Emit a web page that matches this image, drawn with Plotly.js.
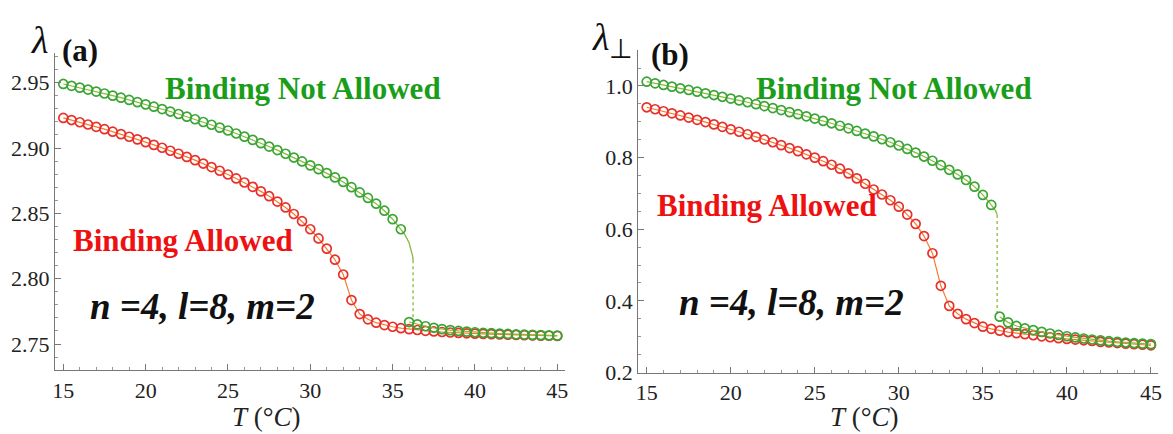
<!DOCTYPE html>
<html>
<head>
<meta charset="utf-8">
<script src="https://cdn.plot.ly/plotly-3.0.1.min.js"></script>
<style>html,body{margin:0;padding:0;background:#fff}#plot{width:1173px;height:434px}</style>
</head>
<body>
<div id="plot"></div>
<script>
// ---------- Data: panel (a) lambda ----------
const tFull = [15,15.5,16,16.5,17,17.5,18,18.5,19,19.5,20,20.5,21,21.5,22,22.5,23,23.5,24,24.5,25,25.5,26,26.5,27,27.5,28,28.5,29,29.5,30,30.5,31,31.5,32,32.5,33,33.5,34,34.5,35,35.5,36,36.5,37,37.5,38,38.5,39,39.5,40,40.5,41,41.5,42,42.5,43,43.5,44,44.5,45];
const tHigh = [15,15.5,16,16.5,17,17.5,18,18.5,19,19.5,20,20.5,21,21.5,22,22.5,23,23.5,24,24.5,25,25.5,26,26.5,27,27.5,28,28.5,29,29.5,30,30.5,31,31.5,32,32.5,33,33.5,34,34.5,35,35.5];
const tLow = [36,36.5,37,37.5,38,38.5,39,39.5,40,40.5,41,41.5,42,42.5,43,43.5,44,44.5,45];

const lamA_allowed = [2.9230,2.9214,2.9197,2.9180,2.9162,2.9144,2.9125,2.9106,2.9086,2.9066,2.9045,2.9024,2.9002,2.8979,2.8956,2.8932,2.8907,2.8881,2.8854,2.8826,2.8797,2.8767,2.8736,2.8703,2.8668,2.8631,2.8590,2.8545,2.8495,2.8440,2.8378,2.8308,2.8230,2.8145,2.8032,2.7836,2.7729,2.7689,2.7663,2.7645,2.7632,2.7621,2.7614,2.7607,2.7601,2.7596,2.7592,2.7588,2.7585,2.7582,2.7579,2.7577,2.7575,2.7573,2.7571,2.7569,2.7567,2.7566,2.7564,2.7563,2.7562];
const lamA_notHigh = [2.9490,2.9476,2.9462,2.9447,2.9432,2.9417,2.9401,2.9385,2.9368,2.9351,2.9334,2.9316,2.9298,2.9279,2.9260,2.9240,2.9220,2.9199,2.9178,2.9156,2.9134,2.9111,2.9087,2.9062,2.9037,2.9011,2.8984,2.8956,2.8927,2.8897,2.8867,2.8838,2.8808,2.8775,2.8740,2.8700,2.8660,2.8618,2.8574,2.8520,2.8455,2.8378];
const tA_tail = [35.5,35.75,36.0,36.15,36.22,36.24];
const lamA_tail = [2.8378,2.8335,2.8275,2.8215,2.8170,2.8140];
const tA_jump = [36.24,36.24];
const lamA_jump = [2.8140,2.7690];
const lamA_notLow = [2.7668,2.7650,2.7636,2.7624,2.7614,2.7606,2.7600,2.7595,2.7590,2.7586,2.7583,2.7580,2.7577,2.7574,2.7572,2.7570,2.7568,2.7566,2.7564];

// ---------- Data: panel (b) lambda_perp ----------
const lamB_allowed = [0.9405,0.9350,0.9294,0.9236,0.9177,0.9117,0.9055,0.8992,0.8927,0.8860,0.8790,0.8722,0.8652,0.8580,0.8506,0.8429,0.8349,0.8266,0.8180,0.8091,0.8000,0.7900,0.7800,0.7690,0.7560,0.7420,0.7270,0.7110,0.6970,0.6810,0.6630,0.6410,0.6150,0.5810,0.5330,0.4420,0.3860,0.3640,0.3490,0.3380,0.3280,0.3220,0.3170,0.3130,0.3100,0.3070,0.3040,0.3010,0.2985,0.2960,0.2940,0.2920,0.2900,0.2882,0.2855,0.2838,0.2822,0.2806,0.2790,0.2775,0.2760];
const lamB_notHigh = [1.0120,1.0074,1.0028,0.9982,0.9935,0.9889,0.9842,0.9795,0.9747,0.9698,0.9648,0.9597,0.9545,0.9492,0.9438,0.9383,0.9327,0.9270,0.9212,0.9152,0.9090,0.9025,0.8958,0.8889,0.8818,0.8745,0.8670,0.8593,0.8513,0.8428,0.8338,0.8242,0.8140,0.8030,0.7912,0.7788,0.7660,0.7530,0.7375,0.7190,0.6958,0.6679];
const tB_tail = [35.5,35.65,35.75,35.82,35.85];
const lamB_tail = [0.6679,0.6595,0.6520,0.6450,0.6400];
const tB_jump = [35.85,35.85];
const lamB_jump = [0.6400,0.3620];
const lamB_notLow = [0.3560,0.3400,0.3300,0.3235,0.3185,0.3135,0.3090,0.3050,0.3012,0.2980,0.2950,0.2922,0.2897,0.2875,0.2855,0.2837,0.2821,0.2806,0.2792];

// ---------- Labels ----------
const labelNot = 'Binding Not Allowed';
const labelAllowed = 'Binding Allowed';
const paramLabel = 'n =4, l=8, m=2';

// ---------- Styling ----------
const RED = '#e8302a', RED_LINE = '#f57a30';
const GREEN = '#3aa534', GREEN_LINE = '#8ab83a';
const SERIF = 'Liberation Serif';
const W = 1173, H = 434;
const px = x => x / W, py = y => 1 - y / H;

function markerTrace(x, y, color, lineColor, xa, ya) {
  return {x, y, xaxis: xa, yaxis: ya, mode: 'lines+markers', type: 'scatter',
    line: {color: lineColor, width: 1.2},
    marker: {symbol: 'circle-open', size: 9, color: color, line: {width: 1.7, color: color}},
    hoverinfo: 'skip', showlegend: false};
}
function lineTrace(x, y, color, dash, xa, ya) {
  return {x, y, xaxis: xa, yaxis: ya, mode: 'lines', type: 'scatter',
    line: {color, width: 1.3, dash}, hoverinfo: 'skip', showlegend: false};
}

const traces = [
  lineTrace(tA_tail, lamA_tail, GREEN_LINE, 'solid', 'x', 'y'),
  lineTrace(tA_jump, lamA_jump, GREEN_LINE, 'dot', 'x', 'y'),
  markerTrace(tFull, lamA_allowed, RED, RED_LINE, 'x', 'y'),
  markerTrace(tHigh, lamA_notHigh, GREEN, GREEN_LINE, 'x', 'y'),
  markerTrace(tLow, lamA_notLow, GREEN, GREEN_LINE, 'x', 'y'),
  lineTrace(tB_tail, lamB_tail, GREEN_LINE, 'solid', 'x2', 'y2'),
  lineTrace(tB_jump, lamB_jump, GREEN_LINE, 'dot', 'x2', 'y2'),
  markerTrace(tFull, lamB_allowed, RED, RED_LINE, 'x2', 'y2'),
  markerTrace(tHigh, lamB_notHigh, GREEN, GREEN_LINE, 'x2', 'y2'),
  markerTrace(tLow, lamB_notLow, GREEN, GREEN_LINE, 'x2', 'y2')
];

const axisCommon = {
  showline: true, linecolor: '#777', linewidth: 1.2, mirror: false,
  showgrid: false, zeroline: false,
  ticks: 'inside', ticklen: 6, tickwidth: 1, tickcolor: '#777',
  tickfont: {family: SERIF, size: 22, color: '#222'}
};

const layout = {
  width: W, height: H,
  margin: {l: 0, r: 0, t: 0, b: 0},
  paper_bgcolor: '#fff', plot_bgcolor: '#fff',
  showlegend: false,
  font: {family: SERIF},
  xaxis: Object.assign({}, axisCommon, {domain: [px(55), px(565)], range: [14.496, 45.468], tick0: 15, dtick: 5, anchor: 'y',
    minor: {ticks: 'inside', ticklen: 3, dtick: 1, tickcolor: '#999'}}),
  yaxis: Object.assign({}, axisCommon, {domain: [py(370), py(53)], range: [2.7301, 2.9727], tick0: 2.75, dtick: 0.05, tickformat: '.2f', anchor: 'x',
    minor: {ticks: 'inside', ticklen: 3, dtick: 0.01, tickcolor: '#999'}}),
  xaxis2: Object.assign({}, axisCommon, {domain: [px(638.3), px(1158)], range: [14.5, 45.42], tick0: 15, dtick: 5, anchor: 'y2',
    minor: {ticks: 'inside', ticklen: 3, dtick: 1, tickcolor: '#999'}}),
  yaxis2: Object.assign({}, axisCommon, {domain: [py(372.7), py(50)], range: [0.1995, 1.1004], tick0: 0.2, dtick: 0.2, tickformat: '.1f', anchor: 'x2',
    minor: {ticks: 'inside', ticklen: 3, dtick: 0.05, tickcolor: '#999'}}),
  annotations: []
};

function ann(text, x, y, size, color, extra) {
  return Object.assign({text, x: px(x), y: py(y), xref: 'paper', yref: 'paper', showarrow: false,
    xanchor: 'center', yanchor: 'middle', font: {family: SERIF, size, color}}, extra || {});
}

layout.annotations.push(
  ann('<i>λ</i>', 39, 40, 38, '#111'),
  ann('<b>(a)</b>', 80, 51, 31, '#111'),
  ann('<b>' + labelNot + '</b>', 303, 88, 31, '#1a9e1a'),
  ann('<b>' + labelAllowed + '</b>', 183, 240, 31, '#ee1111'),
  ann('<b><i>' + paramLabel + '</i></b>', 202, 306, 37, '#111'),
  ann('<i>T</i> (°<i>C</i>)', 266, 417, 27, '#222'),
  ann('<i>λ</i><sub>⊥</sub>', 612, 40, 38, '#111'),
  ann('<b>(b)</b>', 670, 54, 31, '#111'),
  ann('<b>' + labelNot + '</b>', 894, 88, 31, '#1a9e1a'),
  ann('<b>' + labelAllowed + '</b>', 767, 205, 31, '#ee1111'),
  ann('<b><i>' + paramLabel + '</i></b>', 791, 302, 37, '#111'),
  ann('<i>T</i> (°<i>C</i>)', 864, 417, 27, '#222')
);

Plotly.newPlot('plot', traces, layout, {staticPlot: true, displayModeBar: false});
</script>
</body>
</html>
